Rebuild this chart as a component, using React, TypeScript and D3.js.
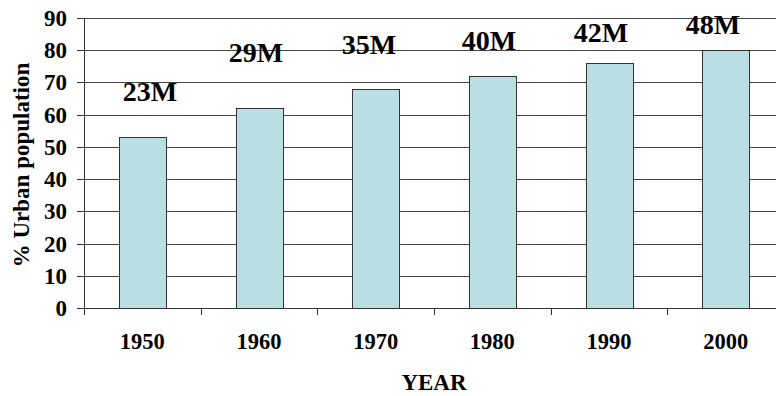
import React from "react";
import * as d3 from "d3";

const years = ["1950", "1960", "1970", "1980", "1990", "2000"];
const urbanPct = [53, 62, 68, 72, 76, 80];
const popLabels = ["23M", "29M", "35M", "40M", "42M", "48M"];
// annotation anchors: y in data units, x shift as fraction of band step
const labelLevel = [64.2, 76.4, 78.8, 80.1, 82.6, 85.0];
const labelShift = [0.066, -0.026, -0.057, -0.028, -0.069, -0.109];
const yTicks = [0, 10, 20, 30, 40, 50, 60, 70, 80, 90];

const W = 776;
const H = 396;
const left = 84;
const right = 784;
const top = 18;
const bottom = 308;
const FONT = "Liberation Serif";

const txt = (size: number): React.CSSProperties => ({
  fontFamily: FONT,
  fontWeight: 700,
  fontSize: size,
});

export default function App() {
  const x = d3
    .scaleBand<string>()
    .domain(years)
    .range([left, right])
    .paddingInner(0.6)
    .paddingOuter(0.3);
  const y = d3.scaleLinear().domain([0, 90]).range([bottom, top]);
  const step = x.step();
  const bw = x.bandwidth();
  const boundaries = d3.range(years.length + 1).map((k) => left + k * step);

  return (
    <svg
      width={W}
      height={H}
      style={{ position: "absolute", left: 0, top: 0, background: "#fff" }}
    >
      <rect x={0} y={0} width={W} height={H} fill="#fff" />
      {yTicks.map((t) => (
        <line
          key={"g" + t}
          x1={left}
          x2={right}
          y1={Math.round(y(t)) + 0.5}
          y2={Math.round(y(t)) + 0.5}
          stroke="#444"
          strokeWidth={1}
        />
      ))}
      {years.map((yr, i) => (
        <rect
          key={yr}
          x={Math.round(x(yr)!) + 0.5}
          y={Math.round(y(urbanPct[i])) + 0.5}
          width={Math.round(bw)}
          height={Math.round(y(0)) - Math.round(y(urbanPct[i]))}
          fill="#BADFE3"
          stroke="#333"
          strokeWidth={1}
        />
      ))}
      <line x1={left + 0.5} x2={left + 0.5} y1={top} y2={bottom + 7} stroke="#333" />
      {yTicks.map((t) => (
        <g key={"yt" + t}>
          <line
            x1={left - 7}
            x2={left}
            y1={Math.round(y(t)) + 0.5}
            y2={Math.round(y(t)) + 0.5}
            stroke="#333"
          />
          <text x={left - 17} y={y(t)} dy="0.35em" textAnchor="end" fill="#000" style={txt(23)}>
            {t}
          </text>
        </g>
      ))}
      <line x1={left} x2={right} y1={bottom + 0.5} y2={bottom + 0.5} stroke="#333" />
      {boundaries.map((b, k) => (
        <line
          key={"xt" + k}
          x1={Math.round(b) + 0.5}
          x2={Math.round(b) + 0.5}
          y1={bottom}
          y2={bottom + 7}
          stroke="#333"
        />
      ))}
      {years.map((yr) => (
        <text
          key={"xl" + yr}
          x={x(yr)! + bw / 2}
          y={349}
          textAnchor="middle"
          fill="#000"
          style={txt(22.5)}
        >
          {yr}
        </text>
      ))}
      {years.map((yr, i) => (
        <text
          key={"lab" + yr}
          x={x(yr)! + bw / 2 + labelShift[i] * step}
          y={y(labelLevel[i])}
          textAnchor="middle"
          fill="#000"
          style={txt(28)}
        >
          {popLabels[i]}
        </text>
      ))}
      <text x={(left + right) / 2} y={390} textAnchor="middle" fill="#000" style={txt(23)}>
        YEAR
      </text>
      <text
        transform={`translate(29,165) rotate(-90)`}
        textAnchor="middle"
        fill="#000"
        style={txt(23)}
      >
        % Urban population
      </text>
    </svg>
  );
}
